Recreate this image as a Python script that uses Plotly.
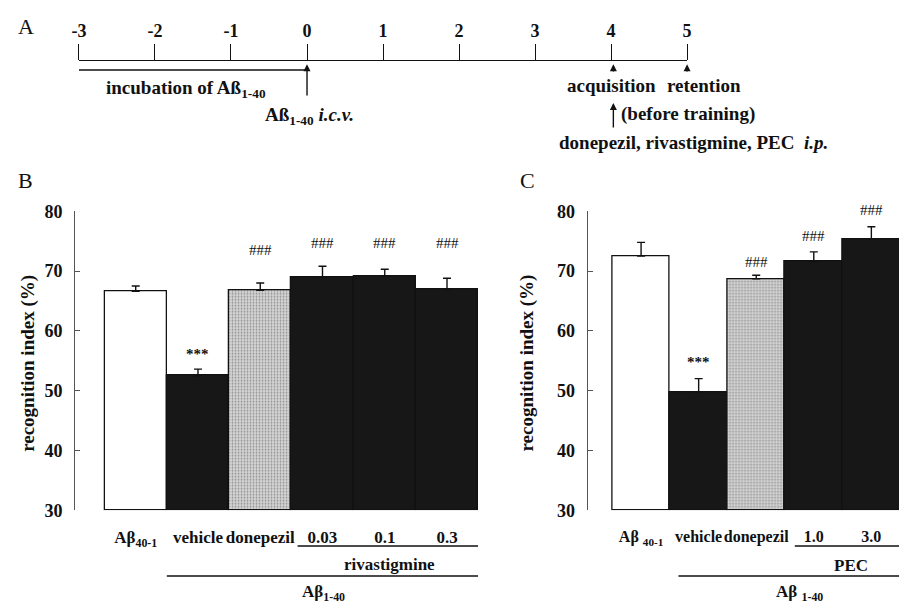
import plotly.graph_objects as go

# ---------------- data ----------------
timeline_days = [-3, -2, -1, 0, 1, 2, 3, 4, 5]
incubation_days = [-3, 0]
acquisition_day = 4.03
retention_day = 5

b_labels = ["Aβ<sub>40-1</sub>", "vehicle", "donepezil", "0.03", "0.1", "0.3"]
b_means = [66.6, 52.5, 66.8, 68.9, 69.1, 67.0]
b_sem = [0.9, 1.1, 1.2, 1.9, 1.2, 1.8]
b_sig = ["", "***", "###", "###", "###", "###"]
b_sig_y = [None, 56.2, 73.5, 74.7, 74.7, 74.7]

c_labels = ["Aβ <sub>40-1</sub>", "vehicle", "donepezil", "1.0", "3.0"]
c_means = [72.5, 49.7, 68.7, 71.6, 75.4]
c_sem = [2.3, 2.3, 0.6, 1.6, 2.0]
c_sig = ["", "***", "###", "###", "###"]
c_sig_y = [None, 54.8, 71.5, 75.8, 80.2]

y_ticks = [30, 40, 50, 60, 70, 80]
Y_MIN, Y_MAX = 30, 80
T_MIN, T_MAX = -3, 5

# ---------------- styling ----------------
W, H = 904, 616
FONT = "Liberation Serif"
INK = "#111111"


def px(p):
    return p / W


def py(p):
    return 1 - p / H


def bar_style(kinds):
    colors, shapes = [], []
    for k in kinds:
        if k == "white":
            colors.append("#ffffff"); shapes.append("")
        elif k == "stipple":
            colors.append("#d6d6d6"); shapes.append(".")
        else:
            colors.append("#171717"); shapes.append("")
    return colors, shapes


fig = go.Figure()

b_colors, b_shapes = bar_style(["white", "black", "stipple", "black", "black", "black"])
c_colors, c_shapes = bar_style(["white", "black", "stipple", "black", "black"])

for xs, ys, es, cols, shps, xa, ya in [
    (list(range(len(b_means))), b_means, b_sem, b_colors, b_shapes, "x", "y"),
    (list(range(len(c_means))), c_means, c_sem, c_colors, c_shapes, "x2", "y2"),
]:
    fig.add_trace(go.Bar(
        x=xs, y=[v - Y_MIN for v in ys], base=Y_MIN, width=1.0,
        marker=dict(color=cols, line=dict(color=INK, width=1.3),
                    pattern=dict(shape=shps, fillmode="overlay", fgcolor="#2a2a2a",
                                 size=3, solidity=0.28)),
        error_y=dict(type="data", array=es, arrayminus=[0] * len(es), symmetric=False,
                     color=INK, thickness=1.4, width=4),
        cliponaxis=False, showlegend=False, xaxis=xa, yaxis=ya, hoverinfo="skip",
    ))

# timeline trace (incubation line)
fig.add_trace(go.Scatter(
    x=incubation_days, y=[-9, -9], mode="lines", line=dict(color=INK, width=1.6),
    xaxis="x3", yaxis="y3", showlegend=False, hoverinfo="skip",
))

ytop, ybot = 208, 517
yaxis_common = dict(
    range=[Y_MIN, Y_MAX], tickvals=y_ticks, showline=True, linecolor="#555", linewidth=1,
    ticks="inside", ticklen=5, tickcolor="#555", showgrid=False, zeroline=False,
    tickfont=dict(family=FONT, size=18, color=INK, weight="bold"), ticklabelstandoff=8,
    domain=[py(ybot), py(ytop)],
)
xtick_font = dict(family=FONT, size=17, color=INK, weight="bold")

fig.update_layout(
    width=W, height=H, margin=dict(l=0, r=0, t=0, b=0),
    paper_bgcolor="white", plot_bgcolor="white", bargap=0,
    font=dict(family=FONT, color=INK),
    xaxis=dict(domain=[px(68), px(477)], range=[-0.975, 5.5], anchor="y",
               tickvals=list(range(len(b_labels))), ticktext=b_labels, ticks="",
               showline=False, showgrid=False, zeroline=False, tickfont=xtick_font,
               ticklabelstandoff=15, tickangle=0),
    yaxis=dict(anchor="x", **yaxis_common),
    xaxis2=dict(domain=[px(588), 1.0], range=[-0.93, 4.48], anchor="y2",
                tickvals=list(range(len(c_labels))), ticktext=c_labels, ticks="",
                showline=False, showgrid=False, zeroline=False,
                tickfont=dict(family=FONT, size=16, color=INK, weight="bold"),
                ticklabelstandoff=15, tickangle=0),
    yaxis2=dict(anchor="x2", **yaxis_common),
    xaxis3=dict(domain=[px(72), px(689)], range=[T_MIN, T_MAX], anchor="y3", side="top",
                tickvals=timeline_days, ticktext=[str(d) for d in timeline_days],
                ticks="outside", ticklen=16, tickwidth=1.2, tickcolor=INK,
                showline=True, linecolor=INK, linewidth=1.2, showgrid=False,
                zeroline=False, ticklabelstandoff=0, tickangle=0,
                tickfont=dict(family=FONT, size=18, color=INK, weight="bold")),
    yaxis3=dict(domain=[py(150), py(53)], range=[-97, 0], anchor="x3", visible=False),
)

ann = []
text_font = dict(family=FONT, size=19, color=INK, weight="bold")
C = dict(xanchor="center", yanchor="middle")

# panel letters
for letter, x, y in [("A", 18, 17), ("B", 18, 176), ("C", 527, 176)]:
    ann.append(dict(text=letter, x=px(x), y=py(y), xref="paper", yref="paper",
                    showarrow=False, font=dict(family=FONT, size=22, color=INK), **C))

# timeline texts (x given in days, placed on the timeline axis domain)
for txt, day, y in [
    ("incubation of Aß<sub>1-40</sub>", -1.59, -29),
    ("Aß<sub>1-40</sub> <i>i.c.v.</i>", 0.03, -57),
    ("acquisition", 4.0, -25),
    ("retention", 5.22, -25),
    ("(before training)", 5.01, -54),
    ("donepezil, rivastigmine, PEC  <i>i.p.</i>", 5.09, -84),
]:
    ann.append(dict(text=txt, x=(day - T_MIN) / (T_MAX - T_MIN), y=y, xref="x3 domain",
                    yref="y3", showarrow=False, font=text_font, **C))

# timeline arrows
for x, tip, tail in [
    (incubation_days[1], -3, -37),
    (acquisition_day, -3, -12),
    (retention_day, -3, -12),
    (acquisition_day, -43, -70),
]:
    ann.append(dict(text="", x=x, y=tip, ax=x, ay=tail, xref="x3", yref="y3",
                    axref="x3", ayref="y3", showarrow=True, arrowhead=2,
                    arrowsize=1.0, arrowwidth=1.4, arrowcolor=INK))

# significance marks
for sig, sy, xa, ya in [(b_sig, b_sig_y, "x", "y"), (c_sig, c_sig_y, "x2", "y2")]:
    for i, (s, yv) in enumerate(zip(sig, sy)):
        if not s:
            continue
        ann.append(dict(text=s, x=i, y=(yv - Y_MIN) / (Y_MAX - Y_MIN), xref=xa,
                        yref=ya + " domain", showarrow=False,
                        font=dict(family=FONT, size=15, color=INK,
                                  weight="bold" if s == "***" else "normal"), **C))

# y-axis titles
for x in [20, 527]:
    ann.append(dict(text="recognition index (%)", x=px(x), y=py(365), xref="paper",
                    yref="paper", showarrow=False, textangle=-90,
                    font=dict(family=FONT, size=19, color=INK, weight="bold"), **C))

# group labels below x axes
for txt, x, y, xa in [
    ("rivastigmine", 4.07, 573, "x"),
    ("Aβ<sub>1-40</sub>", 3.01, 603, "x"),
    ("PEC", 3.64, 574, "x2"),
    ("Aβ <sub>1-40</sub>", 2.76, 603, "x2"),
]:
    ann.append(dict(text=txt, x=x, y=py(y), xref=xa, yref="paper", showarrow=False,
                    font=dict(family=FONT, size=17, color=INK, weight="bold"), **C))

fig.update_layout(annotations=ann)

shapes = []
for x0, x1, y, xa in [
    (2.6, 5.5, 554, "x"),
    (0.5, 5.5, 585, "x"),
    (2.67, 4.48, 554, "x2"),
    (0.65, 4.48, 585, "x2"),
]:
    shapes.append(dict(type="line", x0=x0, x1=x1, y0=py(y), y1=py(y), xref=xa,
                       yref="paper", line=dict(color=INK, width=1.4)))
fig.update_layout(shapes=shapes)

fig.write_html("out.html")
